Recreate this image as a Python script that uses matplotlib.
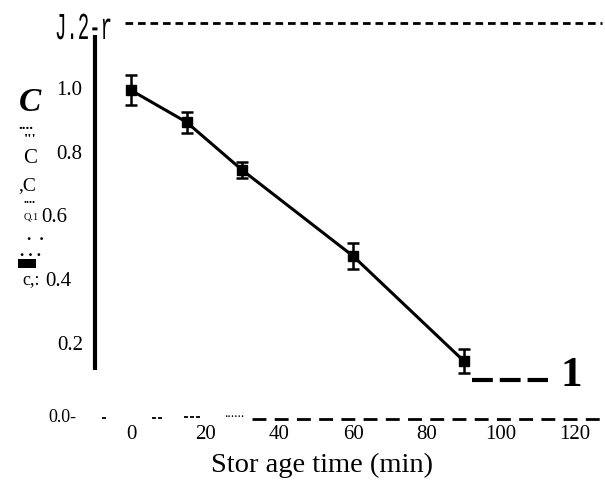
import numpy as np
import matplotlib.pyplot as plt
from matplotlib.textpath import TextPath
from matplotlib.patches import PathPatch
from matplotlib.font_manager import FontProperties
from matplotlib.transforms import Affine2D

plt.rcParams['font.family'] = ['Liberation Serif', 'DejaVu Serif']
plt.rcParams['lines.scale_dashes'] = False

# donnees
temps = [0, 15, 30, 60, 90]
ratio = [1.0, 0.90, 0.75, 0.48, 0.15]
erreur = [0.047, 0.033, 0.025, 0.040, 0.038]

xticks = [0, 20, 40, 60, 80, 100, 120]
yticks = [0.2, 0.4, 0.6, 0.8, 1.0]

W, H = 605, 486
X0, SX = 131, 3.7      # pixel de t=0, pixels par minute
Y0, SY = 409, 318.75   # pixel de y=0, pixels par unite


def px(x, y):
    # pixel image -> coordonnees donnees
    return (x - X0) / SX, (Y0 - y) / SY


def txt(x, y, s, **kw):
    tx, ty = px(x, y)
    kw.setdefault('ha', 'center')
    kw.setdefault('va', 'center')
    ax.text(tx, ty, s, **kw)


def trait(xs, xe, y, lw=1.3, **kw):
    a, yy = px(xs, y)
    b, _ = px(xe, y)
    ax.plot([a, b], [yy, yy], color='black', lw=lw,
            solid_capstyle='butt', **kw)


fig = plt.figure(figsize=(W / 100, H / 100), dpi=100)
ax = fig.add_axes([0, 0, 1, 1])
ax.set_axis_off()
ax.set_xlim(px(0, 0)[0], px(W, 0)[0])
ax.set_ylim(px(0, H)[1], px(0, 0)[1])

# courbe avec barres d'erreur
ax.errorbar(temps, ratio, yerr=erreur, fmt='s-', color='black', ms=7,
            lw=2.2, elinewidth=1.8, capsize=4, capthick=1.8, zorder=3)

# axe vertical (ne touche pas l'axe x)
xa, ya = px(95, 35)
_, yb = px(95, 370)
ax.plot([xa, xa], [ya, yb], color='black', lw=3, solid_capstyle='butt')

# ligne pointillee du haut
trait(125, 602, 23, lw=2, dashes=(5.5, 3.5))

# axe x en tirets
trait(252, 605, 419, lw=2, dashes=(10, 6))
trait(102, 106, 418)
trait(152, 156, 418)
trait(158, 162, 418)
trait(184, 188, 417)
trait(190, 194, 417)
trait(196, 200, 417)
txt(234, 417, '......', va='baseline', fontsize=10)

# tirets a droite du dernier point + "1"
trait(472, 548, 380, lw=3, dashes=(15, 5))
txt(571, 376, '1', fontsize=31, fontweight='bold')

# graduations x
for v in xticks:
    ax.text(v, px(0, 434)[1], str(v), ha='center', va='center', fontsize=15)

# graduations y (decalages du scan)
decal = {1.0: 82, 0.8: 82, 0.6: 67, 0.4: 71, 0.2: 83}
for v in yticks:
    ax.text(px(decal[v], 0)[0], v, '%.1f' % v, ha='right', va='center',
            fontsize=15)
txt(48, 417, '0.0-', ha='left', fontsize=13)

# restes illisibles du titre de l'axe y
txt(30, 102, 'C', fontsize=24, fontweight='bold', fontstyle='italic')
txt(26, 125, '....', fontsize=11, fontweight='bold')
txt(30, 158, 'C', fontsize=15)
txt(30, 140, "'''", fontsize=11, fontweight='bold')
txt(27, 186, ',C', fontsize=14)
txt(29, 200, '....', fontsize=9, fontweight='bold')
txt(31, 217, 'Q.1', fontsize=7.5)
txt(35, 236, '.  .', fontsize=12, fontweight='bold')
txt(30, 252, '. . .', fontsize=12, fontweight='bold')
r0 = px(18, 268)
r1 = px(36, 259)
ax.fill_between([r0[0], r1[0]], r0[1], r1[1], color='black', lw=0)
txt(31, 280, 'c,:', fontsize=13)

# titre de l'axe x
txt(322, 465, 'Stor age time (min)', fontsize=20.5)

# "J.2-r" en haut, police mono etiree
tp = TextPath((0, 0), 'J.2-r', size=20,
              prop=FontProperties(family='Liberation Mono'))
trans = Affine2D().scale(0.95, 1.9).translate(55, H - 39)
patch = PathPatch(trans.transform_path(tp), color='black', lw=0,
                  transform=None)
fig.patches.append(patch)

plt.savefig('out.png', dpi=100)
